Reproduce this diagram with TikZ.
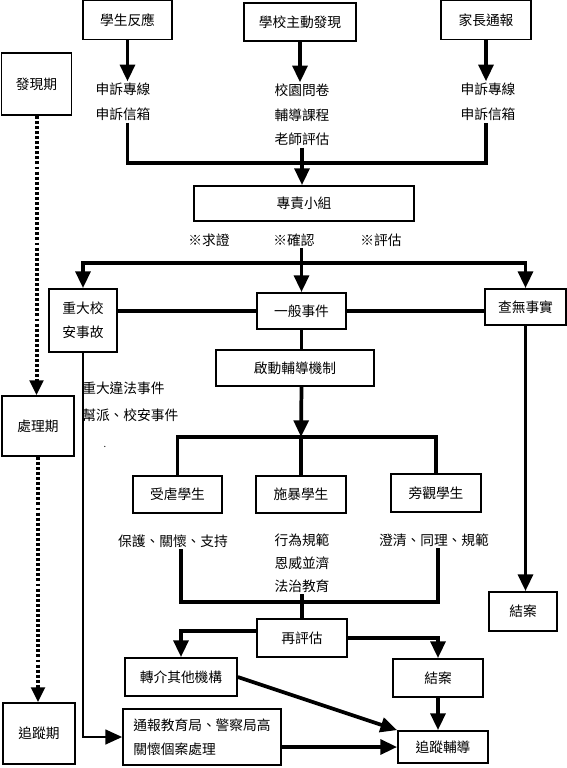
\documentclass[tikz,border=0pt]{standalone}
\usepackage{fontspec}
\setmainfont{Noto Sans CJK TC}
\usetikzlibrary{arrows.meta}

\begin{document}
\begin{tikzpicture}[x=0.75pt,y=-0.75pt,
    box/.style={draw,line width=1.3pt,inner sep=0pt,align=center,font=\fontsize{10.3}{18}\selectfont},
    bsz/.style 2 args={minimum width=#1*0.75pt,minimum height=#2*0.75pt},
    txt/.style={inner sep=1pt,align=center,font=\fontsize{10.3}{19}\selectfont},
    conn/.style={line width=2.8pt},
    arr/.style={conn,-{Triangle[length=12.5pt,width=11pt]}},
    thinarr/.style={line width=1.6pt,-{Triangle[length=12.5pt,width=11pt]}},
    dotarr/.style={line width=3pt,dash pattern=on 2.2pt off 1.6pt,-{Triangle[length=11pt,width=10pt]}}]
            \useasboundingbox (0,0) rectangle (567,768);

            % phases
            \node (find) at (36.5,84) [box,bsz={70}{62}] {發現期};
            \node (proc) at (38,426) [box,bsz={72}{60}] {處理期};
            \node (trace) at (39,733.5) [box,bsz={72}{61}] {追蹤期};

            % sources
            \node (stu) at (127.5,20) [box,bsz={89}{39}] {學生反應};
            \node (sch) at (300,22) [box,bsz={112}{38}] {學校主動發現};
            \node (par) at (486,20) [box,bsz={90}{39}] {家長通報};
            \node (t1) at (123,102) [txt] {申訴專線\\申訴信箱};
            \node (t2) at (302,115) [txt,font=\fontsize{10.3}{18.5}\selectfont] {校園問卷\\輔導課程\\老師評估};
            \node (t3) at (488,102) [txt] {申訴專線\\申訴信箱};
            \coordinate (j) at (302,163);

            \node (team) at (304,203.5) [box,bsz={220}{35}] {專責小組};
            \node (qz) at (209,240) [txt] {※求證};
            \node (qr) at (294,240) [txt] {※確認};
            \node (pg) at (381,240) [txt] {※評估};
            \coordinate (s) at (301.5,263);

            % cases
            \node (major) at (83,320.5) [box,bsz={68}{63}] {重大校\\安事故};
            \node (gen) at (301.5,311) [box,bsz={89}{36}] {一般事件};
            \node (none) at (525.5,307) [box,bsz={81}{36}] {查無事實};
            \node (close1) at (523,611.5) [box,bsz={68}{39}] {結案};
            \node (law) at (82,402) [txt,anchor=west,inner sep=0pt,align=left,font=\fontsize{10.3}{20}\selectfont] {重大違法事件\\幫派、校安事件};
            \node (pt) at (105,447) [txt,font=\fontsize{7}{8}\selectfont] {.};

            \node (start) at (295,368) [box,bsz={158}{36}] {啟動輔導機制};
            \coordinate (s2) at (301,437);
            \node (vic) at (177.5,494.5) [box,bsz={89}{37}] {受虐學生};
            \node (bul) at (301,494.5) [box,bsz={90}{37}] {施暴學生};
            \node (bys) at (436,493) [box,bsz={90}{38}] {旁觀學生};
            \node (tv) at (173,541) [txt] {保護、關懷、支持};
            \node (tb) at (302,563) [txt,font=\fontsize{10.3}{17.3}\selectfont] {行為規範\\恩威並濟\\法治教育};
            \node (ty) at (434,540) [txt] {澄清、同理、規範};
            \coordinate (m) at (302,602);

            % follow-up
            \node (reeval) at (302,638) [box,bsz={90}{38}] {再評估};
            \node (refer) at (181,677) [box,bsz={112}{38}] {轉介其他機構};
            \node (close2) at (438,678) [box,bsz={90}{38}] {結案};
            \node (report) at (202,737) [box,bsz={158}{56},align=left,font=\fontsize{10.3}{18}\selectfont] {通報教育局、警察局高\\關懷個案處理};
            \node (follow) at (443,747) [box,bsz={90}{32}] {追蹤輔導};

            \draw[dotarr] (find) -- (find |- proc.north);
            \draw[dotarr] (proc) -- (proc |- trace.north);

            \draw[arr] (stu.south) -- (stu.south |- t1.north);
            \draw[arr] (sch.south) -- (sch.south |- t2.north);
            \draw[arr] (par.south) -- (par.south |- t3.north);
            \draw[conn] (stu |- t1.south) |- (j) -| (par |- t3.south);
            \draw[arr] (t2.south) -- (t2.south |- team.north);

            \draw[arr] (gen |- qr.south) -- (gen);
            \draw[arr] (s) -| (major);
            \draw[arr] (s) -| (none);
            \draw[conn] (major.east |- gen) -- (gen) -- (none.west |- gen);
            \draw[arr] (none.south) -- (none.south |- close1.north);
            \draw[thinarr] (major) |- (report);

            \draw[conn] (gen.south) -- (gen.south |- start.north);
            \draw[arr] (gen.south |- start.south) -- (s2);
            \draw[conn] (vic) -- (vic |- s2) -- (bys |- s2) -- (bys) (s2) -- (bul);
            \draw[conn] (refer |- tv.south) |- (m) -| (close2 |- ty.south);
            \draw[conn] (tb) -- (reeval);

            \draw[arr] ([yshift=5pt]reeval.west) -| (refer);
            \draw[arr] (reeval.east) -| (close2);
            \draw[arr] (close2.south) -- (close2.south |- follow.north);
            \draw[arr] (refer.east) -- (follow.north west);
            \draw[arr] (report.east |- follow) -- (follow);
        \end{tikzpicture}
\end{document}
